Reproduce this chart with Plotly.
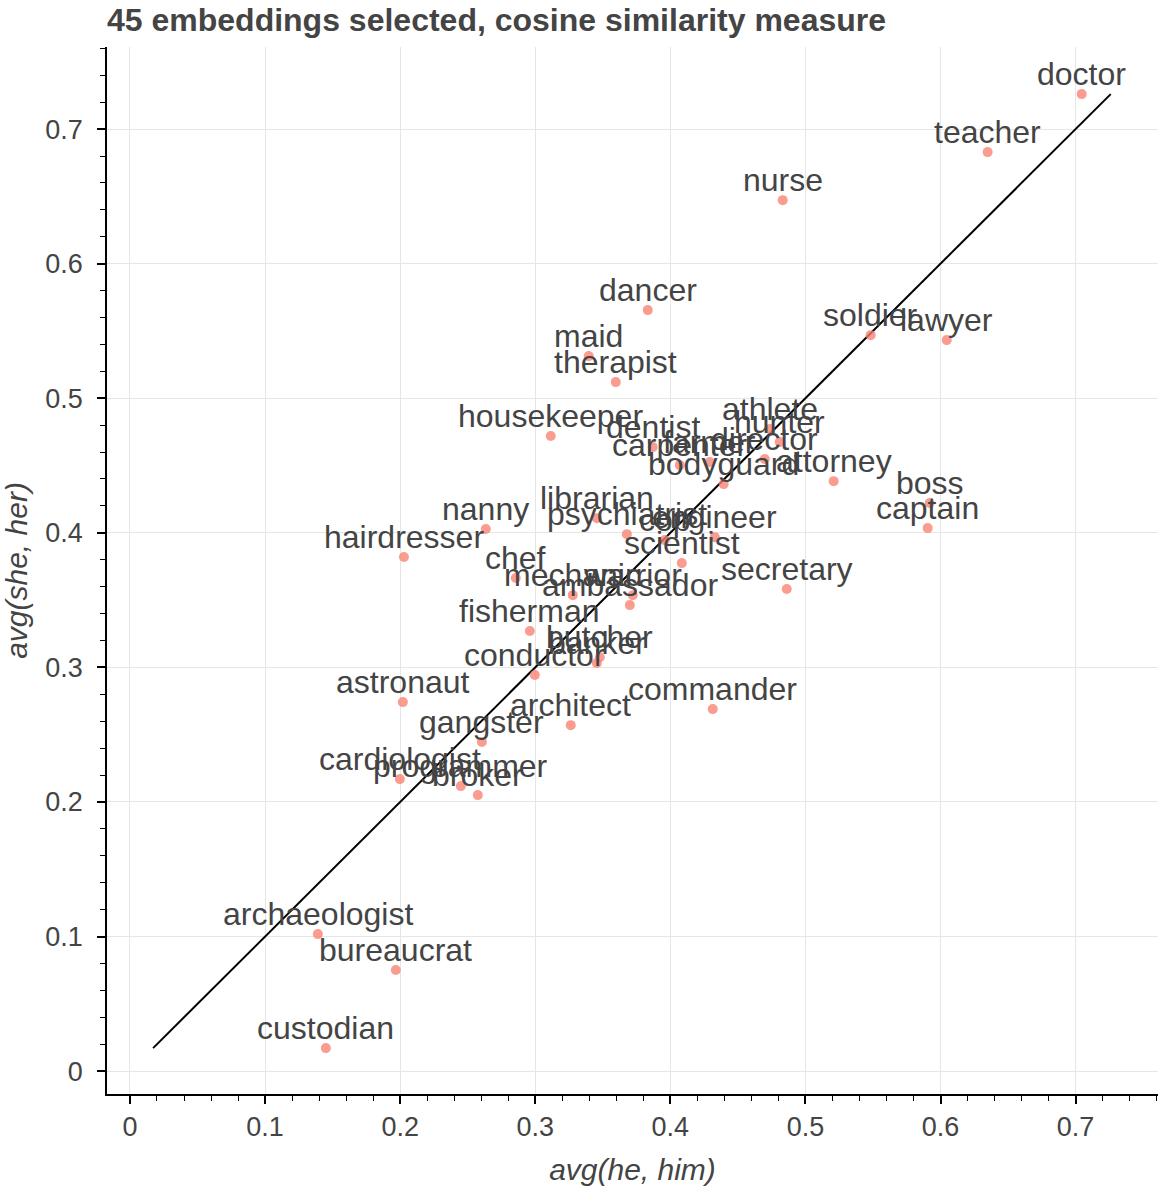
import plotly.graph_objects as go

# Occupation words and their average cosine similarity to gendered pronouns
words = [
    "doctor", "teacher", "nurse", "dancer", "soldier", "lawyer", "maid",
    "therapist", "housekeeper", "athlete", "hunter", "dentist", "carpenter",
    "farmer", "director", "bodyguard", "attorney", "boss", "captain", "nanny",
    "librarian", "psychiatrist", "cop", "engineer", "scientist", "hairdresser",
    "chef", "mechanic", "warrior", "ambassador", "secretary", "fisherman",
    "butcher", "banker", "conductor", "commander", "astronaut", "architect",
    "gangster", "cardiologist", "programmer", "broker", "archaeologist",
    "bureaucrat", "custodian",
]
he_him = [
    0.7045, 0.6349, 0.4832, 0.3833, 0.5483, 0.6046, 0.3396,
    0.3596, 0.3115, 0.4736, 0.4810, 0.3870, 0.4070,
    0.4292, 0.4699, 0.4395, 0.5209, 0.5920, 0.5905, 0.2634,
    0.3456, 0.3678, 0.3959, 0.4329, 0.4085, 0.2028,
    0.2856, 0.3278, 0.3722, 0.3700, 0.4862, 0.2960,
    0.3478, 0.3456, 0.2997, 0.4314, 0.2020, 0.3263,
    0.2605, 0.1998, 0.2449, 0.2575, 0.1391,
    0.1968, 0.1450,
]
she_her = [
    0.7260, 0.6829, 0.6472, 0.5655, 0.5469, 0.5432, 0.5313,
    0.5120, 0.4719, 0.4771, 0.4674, 0.4637, 0.4503,
    0.4526, 0.4548, 0.4362, 0.4384, 0.4221, 0.4035, 0.4028,
    0.4109, 0.3990, 0.3946, 0.3968, 0.3775, 0.3820,
    0.3664, 0.3537, 0.3537, 0.3463, 0.3582, 0.3270,
    0.3076, 0.3032, 0.2943, 0.2690, 0.2742, 0.2571,
    0.2445, 0.2170, 0.2118, 0.2051, 0.1018,
    0.0751, 0.0171,
]

title_text = "45 embeddings selected, cosine similarity measure"
x_title = "avg(he, him)"
y_title = "avg(she, her)"

FONT = "Liberation Sans, Arial, Helvetica, sans-serif"
TEXT_COLOR = "#444444"

# diagonal reference line spanning the data extent
lo = min(min(he_him), min(she_her))
hi = max(max(he_him), max(she_her))

fig = go.Figure()
fig.add_trace(go.Scatter(
    x=[lo, hi], y=[lo, hi], mode="lines",
    line=dict(color="black", width=2),
    hoverinfo="skip", showlegend=False,
))
fig.add_trace(go.Scatter(
    x=he_him, y=she_her, text=words, mode="markers",
    marker=dict(color="#fa8072", opacity=0.78, size=10, line=dict(width=0)),
    showlegend=False,
))

# word labels centred just above each point
for w, xv, yv in zip(words, he_him, she_her):
    fig.add_annotation(
        x=xv, y=yv, text=w, showarrow=False,
        xanchor="center", yanchor="middle", yshift=20,
        font=dict(family=FONT, size=32, color=TEXT_COLOR),
        borderpad=0,
    )

axis_common = dict(
    range=[-0.017, 0.761],
    dtick=0.1, tick0=0,
    showline=True, linecolor="black", linewidth=1.5,
    ticks="outside", ticklen=8, tickwidth=1.5, tickcolor="black",
    showgrid=True, gridcolor="#e6e6e6", gridwidth=1,
    zeroline=False,
    tickfont=dict(family=FONT, size=27, color=TEXT_COLOR),
    minor=dict(ticks="outside", ticklen=5, tickwidth=1, tickcolor="black",
               dtick=0.02, showgrid=False),
)

fig.update_layout(
    width=1160, height=1191,
    margin=dict(l=107, r=2, t=47, b=97),
    paper_bgcolor="white", plot_bgcolor="white",
    title=dict(
        text=f"<b>{title_text}</b>",
        x=107 / 1160, xref="container", xanchor="left",
        y=1 - 20 / 1191, yref="container", yanchor="middle",
        font=dict(family=FONT, size=32, color=TEXT_COLOR),
    ),
    xaxis=dict(
        **axis_common,
        title=dict(text=f"<i>{x_title}</i>", standoff=18,
                   font=dict(family=FONT, size=30, color=TEXT_COLOR)),
        ticklabelstandoff=0,
    ),
    yaxis=dict(
        **axis_common,
        title=dict(text=f"<i>{y_title}</i>", standoff=16,
                   font=dict(family=FONT, size=30, color=TEXT_COLOR)),
        ticklabelstandoff=9,
    ),
)

fig.write_html("out.html")
